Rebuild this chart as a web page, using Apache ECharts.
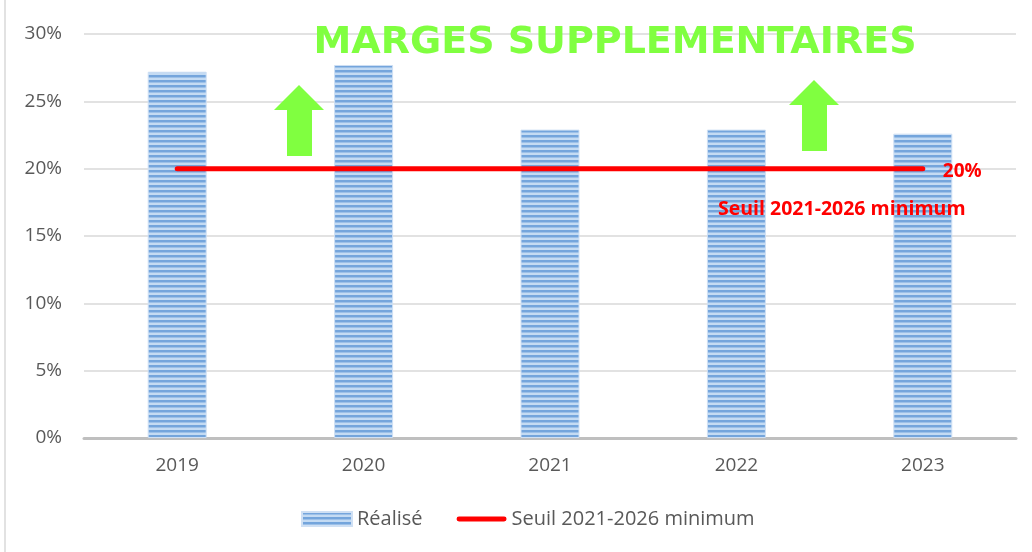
<!DOCTYPE html>
<html>
<head>
<meta charset="utf-8">
<script src="https://cdn.jsdelivr.net/npm/echarts@6/dist/echarts.min.js"></script>
<style>
html,body{margin:0;padding:0;background:#fff;}
#main{width:1032px;height:552px;}
</style>
</head>
<body>
<div id="main"></div>
<script>
var years=['2019','2020','2021','2022','2023'];
var realise=[27.2,27.7,22.9,22.9,22.6];
var seuil=[20,20,20,20,20];
var yTicks=[0,5,10,15,20,25,30];

// motif rayé horizontal des barres
var cv=document.createElement('canvas');
cv.width=4;cv.height=5;
var cx=cv.getContext('2d');
cx.fillStyle='#c4dbf3';cx.fillRect(0,0,4,5);
cx.fillStyle='#74a5dc';cx.fillRect(0,0,4,2);
cx.fillStyle='#9cc0e8';cx.fillRect(0,2,4,1);

var green='#80ff40';
function arrow(x,y){
  // x = gauche de la tête, y = pointe
  return {type:'polygon',silent:true,z:100,shape:{points:[
    [x+25,y],[x+50,y+25],[x+38,y+25],[x+38,y+71],[x+13,y+71],[x+13,y+25],[x,y+25]
  ]},style:{fill:green}};
}

var myChart=echarts.init(document.getElementById('main'));
var option={
  animation:false,
  grid:{left:84,right:16,top:34,bottom:114},
  legend:{
    bottom:18,left:296,itemGap:34,itemWidth:50,itemHeight:14,
    textStyle:{color:'#595959',fontSize:20,fontFamily:'Open Sans'},
    data:[
      {name:'Réalisé',icon:'rect'},
      {name:'Seuil 2021-2026 minimum',icon:'path://M2,0L48,0A2,2 0 0 1 48,5L2,5A2,2 0 0 1 2,0Z'}
    ]
  },
  xAxis:{
    type:'category',data:years,
    axisLine:{lineStyle:{color:'#bfbfbf',width:3}},
    axisTick:{show:false},
    axisLabel:{color:'#595959',fontSize:19,fontFamily:'Open Sans',margin:18}
  },
  yAxis:{
    type:'value',min:0,max:30,interval:5,
    axisLine:{show:false},axisTick:{show:false},
    splitLine:{lineStyle:{color:'#d9d9d9',width:1.5}},
    axisLabel:{color:'#595959',fontSize:19,fontFamily:'Open Sans',margin:22,
      formatter:function(v){return yTicks.indexOf(v)>=0?v+'%':'';}}
  },
  series:[
    {
      name:'Réalisé',type:'bar',data:realise,barWidth:59,
      itemStyle:{color:{image:cv,repeat:'repeat'},borderColor:'#cfe0f4',borderWidth:1}
    },
    {
      name:'Seuil 2021-2026 minimum',type:'line',data:seuil,
      symbol:'none',z:5,
      lineStyle:{color:'#ff0000',width:5,cap:'round'},
      itemStyle:{color:'#ff0000'},
      endLabel:{show:true,formatter:'20%',color:'#ff0000',fontWeight:'bold',
        fontSize:19,fontFamily:'Open Sans',distance:20,offset:[0,3]}
    }
  ],
  graphic:[
    {type:'rect',silent:true,shape:{x:5,y:-2,width:1040,height:560},
      style:{fill:'none',stroke:'#d9d9d9',lineWidth:1.5}},
    {type:'text',silent:true,z:100,x:615,y:24,
      style:{text:'MARGES SUPPLEMENTAIRES',fill:green,align:'center',verticalAlign:'top',
        font:'bold 38px "DejaVu Sans"'}},
    {type:'text',silent:true,z:100,x:718,y:199,
      style:{text:'Seuil 2021-2026 minimum',fill:'#ff0000',font:'bold 19.5px "Open Sans"'}},
    arrow(274,85),
    arrow(789,80)
  ]
};
myChart.setOption(option);
</script>
</body>
</html>
